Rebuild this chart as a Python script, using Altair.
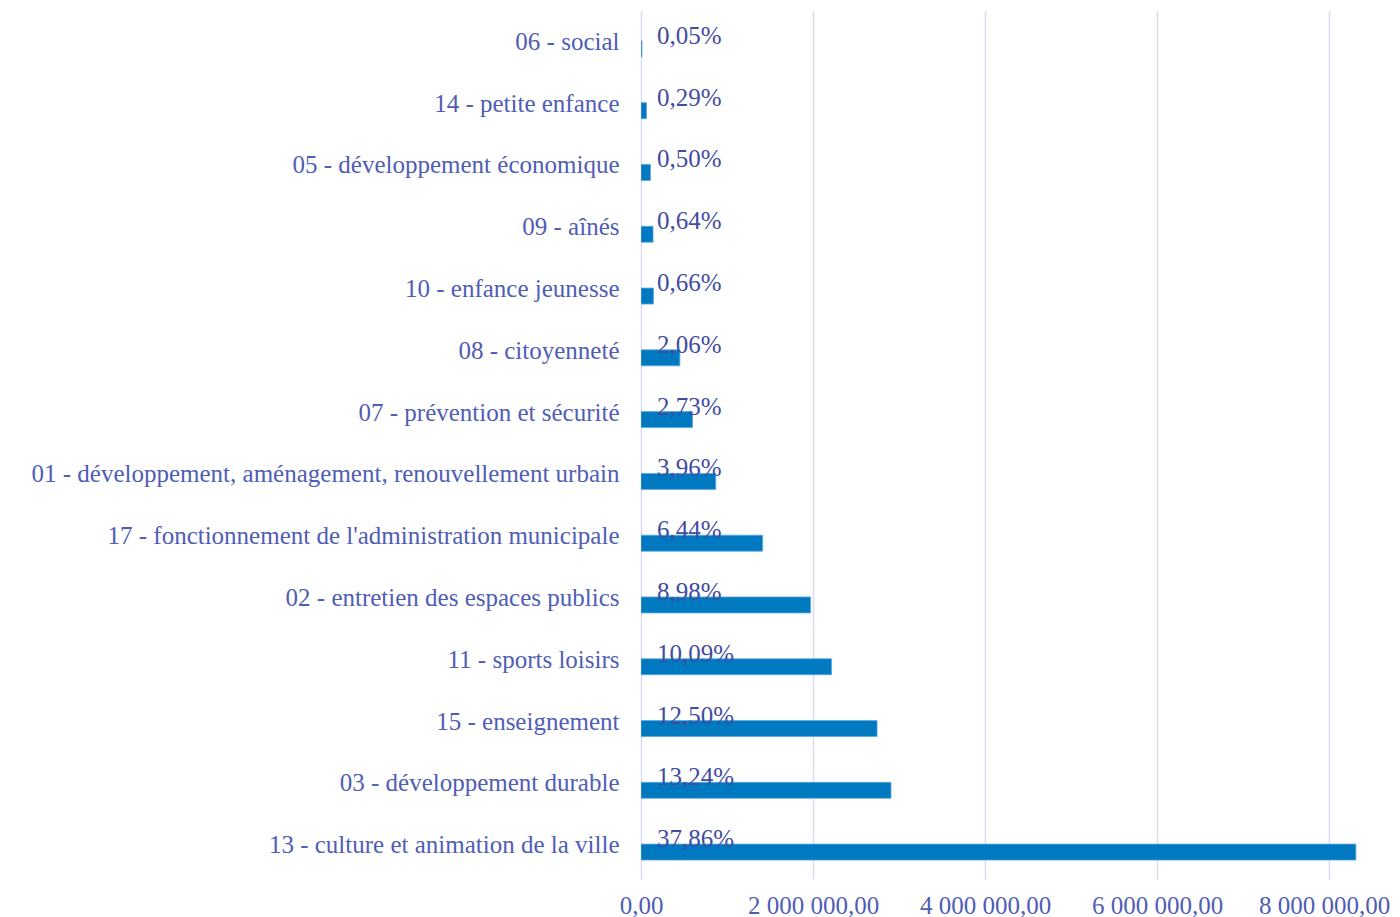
import altair as alt
import pandas as pd

categories = [
    "06 - social",
    "14 - petite enfance",
    "05 - développement économique",
    "09 - aînés",
    "10 - enfance jeunesse",
    "08 - citoyenneté ",
    "07 - prévention et sécurité",
    "01 - développement, aménagement, renouvellement urbain",
    "17 - fonctionnement de l'administration municipale",
    "02 - entretien des espaces publics",
    "11 - sports loisirs",
    "15 - enseignement",
    "03 - développement durable",
    "13 - culture et animation de la ville",
]
amounts = [11000, 64000, 110000, 140000, 145000, 452000, 599000, 869000,
           1414000, 1971000, 2215000, 2744000, 2906000, 8310000]
percents = ["0,05%", "0,29%", "0,50%", "0,64%", "0,66%", "2,06%", "2,73%", "3,96%",
            "6,44%", "8,98%", "10,09%", "12,50%", "13,24%", "37,86%"]
x_ticks = [0, 2000000, 4000000, 6000000, 8000000]

df = pd.DataFrame({"cat": categories, "amount": amounts, "pct": percents, "zero": 0})

FONT = "Liberation Serif"
TXT = "#4f5db5"
PCT = "#3f4c9f"
GRID = "#d9dcf0"

y_enc = alt.Y("cat:N", sort=categories, title=None,
              scale=alt.Scale(paddingInner=0, paddingOuter=0),
              axis=alt.Axis(domain=False, ticks=False, labelPadding=22,
                            labelFontSize=25, labelFont=FONT, labelColor=TXT,
                            labelLimit=0))

x_scale = alt.Scale(domain=[0, 8730000], nice=False)

bars = alt.Chart(df).mark_bar(height=16, yOffset=7, color="#0079c1",
                              stroke="#5fa8dc", strokeWidth=0.8, clip=True).encode(
    x=alt.X("amount:Q", scale=x_scale, title=None,
            axis=alt.Axis(values=x_ticks, format=",.2f", domain=False,
                          grid=True, gridColor=GRID, gridWidth=1.5,
                          ticks=True, tickColor=GRID, tickSize=3, tickWidth=1.5,
                          labelPadding=14, labelFontSize=25, labelFont=FONT,
                          labelColor=TXT, labelFlush=False,
                          labelOffset={"condition": {"test": "datum.value >= 8000000",
                                                     "value": -5}, "value": 0})),
    y=y_enc,
)

labels = alt.Chart(df).mark_text(align="left", baseline="alphabetic", dx=16, dy=2,
                                 fontSize=25, font=FONT, color=PCT).encode(
    x=alt.X("zero:Q", scale=x_scale),
    y=alt.Y("cat:N", sort=categories),
    text="pct:N",
)

chart = alt.layer(bars, labels).properties(
    width=751, height=865,
    autosize=alt.AutoSizeParams(type="none"),
    padding={"left": 633, "top": 3, "right": 0, "bottom": 41},
).configure(
    locale={"number": {"decimal": ",", "thousands": "\u00a0", "grouping": [3],
                       "currency": ["", ""]}},
    view=alt.ViewConfig(stroke=None),
)

chart.save("out.html", embed_options={"renderer": "svg", "actions": False})
